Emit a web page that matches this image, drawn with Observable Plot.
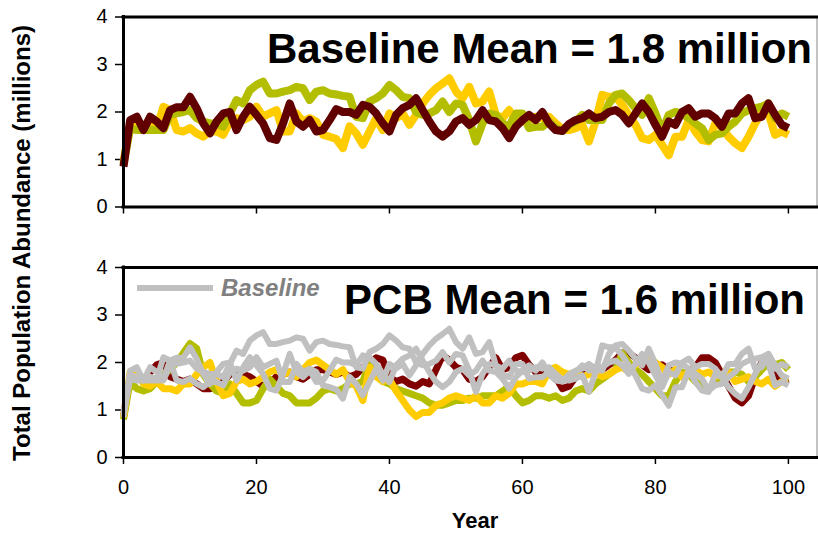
<!DOCTYPE html>
<html>
<head>
<meta charset="utf-8">
<script src="https://cdn.jsdelivr.net/npm/d3@7"></script>
<script src="https://cdn.jsdelivr.net/npm/@observablehq/plot@0.6"></script>
<style>
  html, body { margin: 0; padding: 0; background: #fff; }
  #wrap { position: relative; width: 818px; height: 533px; overflow: hidden; background: #fff; font-family: "Liberation Sans", Arial, sans-serif; }
  .panel { position: absolute; left: 0; }
  #ylab { position: absolute; left: 22px; top: 243px; width: 520px; text-align: center; transform: translate(-50%, -50%) rotate(-90deg); font-weight: bold; font-size: 24px; white-space: nowrap; }
  #xlab { position: absolute; left: 475px; top: 512px; transform: translateX(-50%); font-weight: bold; font-size: 22px; line-height: 18px; height: 18px; }
  #legend { position: absolute; left: 137px; top: 274px; display: flex; align-items: center; }
  #legend .sw { width: 76px; height: 6px; background: #C0C0C0; margin-right: 8px; }
  #legend .tx { font-weight: bold; font-style: italic; font-size: 24px; color: #808080; }
</style>
</head>
<body>
<div id="wrap">
  <div id="top" class="panel" style="top:0px"></div>
  <div id="bottom" class="panel" style="top:240px"></div>
  <div id="ylab">Total Population Abundance (millions)</div>
  <div id="xlab">Year</div>
  <div id="legend"><div class="sw"></div><div class="tx">Baseline</div></div>
</div>
<script>
// ---- data (millions), years 0..100 ----
const years = d3.range(0, 101);
const xTicks = [0, 20, 40, 60, 80, 100];
const yTicks = [0, 1, 2, 3, 4];
const topTitle = "Baseline Mean = 1.8 million";
const bottomTitle = "PCB Mean = 1.6 million";

// Baseline replicates (top panel; gray in bottom panel)
const baseRed = [0.85,1.83,1.9,1.62,1.9,1.8,1.66,2.04,2.1,2.1,2.32,2.08,1.76,1.55,1.8,1.97,2.0,1.62,1.9,2.11,1.94,1.76,1.45,1.41,1.76,2.18,1.8,1.69,1.83,1.59,1.62,1.83,2.06,2.0,2.0,1.94,2.15,2.11,1.97,1.76,1.59,1.94,2.08,2.15,2.29,2.04,1.8,1.59,1.48,1.59,1.8,1.87,1.73,1.83,2.04,1.83,1.8,1.66,1.45,1.69,1.83,1.94,1.83,2.0,1.76,1.62,1.6,1.75,1.83,1.87,1.97,1.87,1.9,2.0,2.04,1.94,1.76,1.97,2.18,2.0,1.73,1.48,1.8,1.73,2.0,2.08,1.9,1.97,1.97,1.87,1.69,1.97,1.97,2.18,2.29,1.87,1.9,2.18,1.94,1.73,1.66];
const baseYellow = [0.95,1.75,1.69,1.65,1.7,1.65,2.11,2.04,1.62,1.59,1.66,1.55,1.48,1.59,1.59,1.52,1.8,1.87,1.83,1.9,2.11,1.9,1.97,2.04,1.59,1.59,1.97,1.8,1.87,1.8,1.52,1.48,1.43,1.24,1.7,1.55,1.31,1.59,1.87,1.62,1.97,1.87,1.97,1.73,1.94,2.18,2.36,2.5,2.6,2.71,2.43,2.29,2.53,2.18,2.22,2.43,1.94,1.87,2.04,1.83,1.8,1.83,1.9,1.87,1.9,1.76,1.64,1.62,1.66,1.73,1.38,1.8,2.36,2.32,2.32,2.15,1.94,1.73,1.45,1.41,1.52,1.31,1.09,1.48,1.48,1.83,1.59,1.41,1.38,1.76,1.69,1.48,1.34,1.24,1.48,1.76,2.0,1.97,1.52,1.59,1.52];
const baseOlive = [0.9,1.65,1.62,1.62,1.62,1.62,1.62,1.94,1.97,2.0,2.04,1.87,1.8,1.76,1.76,1.69,1.97,2.25,2.18,2.46,2.57,2.64,2.39,2.39,2.43,2.46,2.53,2.5,2.25,2.43,2.46,2.39,2.37,2.34,2.32,1.9,1.87,2.22,2.29,2.39,2.57,2.46,2.32,2.29,2.0,1.94,1.97,2.04,2.22,2.0,2.18,2.15,1.83,1.38,1.76,1.97,1.94,1.76,1.69,1.97,1.97,1.66,1.69,1.69,1.8,1.66,1.6,1.73,1.8,1.94,1.83,1.83,1.83,2.18,2.36,2.39,2.25,2.08,1.94,2.29,1.97,1.59,1.94,2.0,1.97,1.87,1.76,1.66,1.41,1.52,1.55,1.69,1.8,1.97,2.04,2.08,2.11,2.18,1.87,1.97,1.9];

// PCB replicates (bottom panel)
const pcbRed = [0.85,1.7,1.75,1.6,1.8,1.95,2.0,1.7,1.65,1.6,1.65,1.55,1.45,1.45,1.5,1.6,1.75,1.8,1.75,1.7,1.6,1.5,1.55,1.7,1.75,1.8,1.7,1.65,1.75,1.85,1.85,1.8,1.75,1.8,1.7,1.75,1.9,2.0,2.1,2.05,1.7,1.6,1.65,1.55,1.5,1.6,1.55,1.85,2.15,2.05,1.9,1.85,1.65,1.6,1.7,1.9,2.1,1.85,1.9,2.1,2.15,1.95,1.8,1.85,1.75,1.7,1.45,1.5,1.7,1.75,1.8,1.9,1.85,1.95,2.05,2.2,2.2,2.1,1.95,1.85,1.9,1.95,1.85,1.8,1.75,1.8,1.9,2.1,2.1,2.0,1.75,1.5,1.25,1.15,1.3,1.7,2.0,1.95,1.8,1.6,1.65];
const pcbOlive = [0.8,1.6,1.45,1.4,1.45,1.6,1.75,1.85,2.0,2.2,2.4,2.3,1.75,1.55,1.4,1.35,1.55,1.35,1.15,1.15,1.2,1.45,1.65,1.5,1.35,1.3,1.15,1.15,1.15,1.25,1.4,1.45,1.4,1.45,1.55,1.55,1.6,2.0,1.75,1.6,1.55,1.45,1.4,1.35,1.3,1.25,1.15,1.1,1.1,1.15,1.2,1.2,1.25,1.25,1.3,1.3,1.3,1.4,1.5,1.3,1.15,1.2,1.3,1.3,1.25,1.3,1.2,1.25,1.4,1.45,1.4,1.55,1.65,1.75,1.85,2.2,2.0,1.85,1.75,1.6,1.45,1.3,1.3,1.6,1.8,1.75,1.6,1.5,1.45,1.55,1.7,1.8,1.8,1.75,1.6,1.7,1.85,2.0,1.95,2.0,1.85];
const pcbYellow = [0.85,1.8,1.78,1.55,1.5,1.6,1.45,1.45,1.4,1.55,1.55,1.75,1.9,2.0,1.6,1.3,1.35,1.6,1.65,1.55,1.6,1.7,1.8,1.85,1.75,1.8,1.7,1.85,2.0,2.05,1.95,1.85,1.75,1.85,1.6,1.5,1.2,1.9,1.7,1.6,1.65,1.4,1.2,1.0,0.86,0.95,0.95,1.1,1.15,1.25,1.3,1.25,1.2,1.3,1.15,1.15,1.3,1.25,1.35,1.55,1.55,1.6,1.6,1.55,1.85,1.9,1.8,1.75,1.8,1.7,1.75,1.8,1.7,1.75,1.85,1.9,1.8,1.95,2.05,2.1,2.0,1.9,1.75,1.85,1.7,1.8,1.85,1.75,1.8,1.7,1.75,1.8,1.6,1.65,1.7,1.6,1.55,1.65,1.5,1.6,1.6];

const colors = { yellow: "#FFCC00", olive: "#B4BE00", redTop: "#600000", redBottom: "#800000", gray: "#C0C0C0" };
const xMax = 104.3;

const toRows = (vals) => vals.map((v, i) => ({ year: years[i], value: v }));

function frameMarks() {
  return [
    Plot.ruleX([xMax], { stroke: "#888888", strokeWidth: 1 }),
    Plot.axisY({ ticks: yTicks, tickSize: 8, tickPadding: 8, fontSize: 20, strokeWidth: 1.5, tickFormat: d3.format("d"), label: null }),
  ];
}
function borderMarks() {
  return [
    Plot.ruleY([0], { stroke: "black", strokeWidth: 3, strokeLinecap: "square" }),
    Plot.ruleY([4], { stroke: "black", strokeWidth: 3, strokeLinecap: "square" }),
    Plot.ruleX([0], { stroke: "black", strokeWidth: 3, strokeLinecap: "square" })
  ];
}
const common = {
  width: 818,
  marginLeft: 123,
  marginRight: 1.5,
  x: { domain: [0, xMax] },
  y: { domain: [0, 4] },
  style: { fontFamily: "'Liberation Sans', Arial, sans-serif", fontSize: "20px", color: "black", background: "white", overflow: "visible" }
};
const line = (vals, stroke, w) => Plot.line(toRows(vals), { x: "year", y: "value", stroke, strokeWidth: w, strokeLinejoin: "round", strokeLinecap: "butt" });

const topPlot = Plot.plot({
  ...common,
  height: 230,
  marginTop: 16.5,
  marginBottom: 23.5,
  marks: [
    ...frameMarks(),
    Plot.axisX({ ticks: xTicks, tickSize: 7, strokeWidth: 1.5, tickFormat: () => "", label: null }),
    line(baseYellow, colors.yellow, 8),
    line(baseOlive, colors.olive, 8),
    line(baseRed, colors.redTop, 8),
    ...borderMarks(),
    Plot.text([topTitle], { text: d => d, frameAnchor: "top-right", textAnchor: "end", lineAnchor: "top", dx: -5, dy: 16.5, fontSize: 42, fontWeight: "bold", fill: "black" })
  ]
});

const bottomPlot = Plot.plot({
  ...common,
  height: 293,
  marginTop: 27,
  marginBottom: 76,
  marks: [
    ...frameMarks(),
    Plot.axisX({ ticks: xTicks, tickSize: 7, tickPadding: 15, strokeWidth: 1.5, fontSize: 20, label: null }),
    line(pcbRed, colors.redBottom, 7),
    line(pcbOlive, colors.olive, 7),
    line(pcbYellow, colors.yellow, 7),
    line(baseYellow, colors.gray, 6),
    line(baseOlive, colors.gray, 6),
    line(baseRed, colors.gray, 6),
    ...borderMarks(),
    Plot.text([bottomTitle], { text: d => d, frameAnchor: "top-right", textAnchor: "end", lineAnchor: "top", dx: -12, dy: 17, fontSize: 42, fontWeight: "bold", fill: "black" })
  ]
});

document.getElementById("top").appendChild(topPlot);
document.getElementById("bottom").appendChild(bottomPlot);
</script>
</body>
</html>
